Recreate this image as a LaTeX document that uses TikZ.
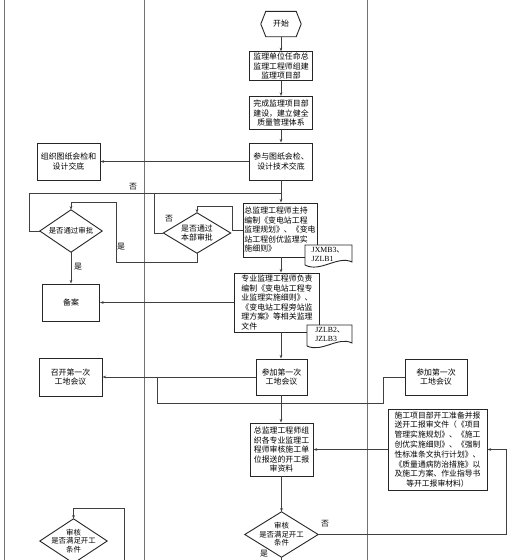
\documentclass[tikz,border=0pt]{standalone}
\usepackage{fontspec}
\setmainfont{Liberation Serif}
\newfontfamily\cjk{Noto Sans CJK SC}
\usetikzlibrary{arrows.meta,calc}
\begin{document}
\begin{tikzpicture}[x=1pt,y=-1pt,
  font=\cjk\fontsize{7.9}{9.5}\selectfont,
  box/.style={draw=black!85, line width=0.9pt, align=center, inner sep=1pt, text=black},
  lbox/.style={box, align=left},
  plain/.style={inner sep=0pt, align=center, text=black},
  conn/.style={draw=black!75, line width=0.6pt},
  arr/.style={conn, -{Stealth[length=3.6pt,width=2.6pt]}},
  lane/.style={draw=black!55, line width=0.8pt},
  shapebd/.style={draw=black!85, line width=0.9pt, fill=white},
  lbl/.style={inner sep=0pt, text=black}
]
\useasboundingbox (0,0) rectangle (507,560);
\clip (0,0) rectangle (507,560);
\fill[white] (0,0) rectangle (507,560);

% swim lanes
\draw[lane] (4,0) -- (4,560);
\draw[lane] (144,0) -- (144,560);
\draw[lane] (367,0) -- (367,560);

% start hexagon
\node[plain, minimum width=40, minimum height=25] (start) at (281,24) {开始};
\draw[shapebd, fill=none] (start.west) -- ($(start.north west)+(5,0)$) -- ($(start.north east)+(-5,0)$)
  -- (start.east) -- ($(start.south east)+(-5,0)$) -- ($(start.south west)+(5,0)$) -- cycle;

% middle lane boxes
\node[box, minimum width=63, minimum height=28] (b1) at (281,66) {监理单位任命总\\监理工程师组建\\监理项目部};
\node[box, minimum width=63, minimum height=33] (b2) at (281,113) {完成监理项目部\\建设，建立健全\\质量管理体系};
\node[box, minimum width=63, minimum height=37] (b3) at (281,161.5) {参与图纸会检、\\设计技术交底};
\node[lbox, minimum width=74, minimum height=54] (b4) at (280,230) {总监理工程师主持\\编制《变电站工程\\监理规划》、《变电\\站工程创优监理实\\施细则》};
\node[lbox, minimum width=85, minimum height=59] (b5) at (277,302.5) {专业监理工程师负责\\编制《变电站工程专\\业监理实施细则》、\\《变电站工程旁站监\\理方案》等相关监理\\文件};
\node[box, minimum width=51, minimum height=36] (b6) at (281.5,377) {参加第一次\\工地会议};
\node[box, minimum width=63, minimum height=53] (b7) at (281.5,449.5) {总监理工程师组\\织各专业监理工\\程师审核施工单\\位报送的开工报\\审资料};

% documents
\draw[shapebd] (305,245) -- (352,245) -- (352,262) .. controls (338,255) and (320,273) .. (305,265) -- cycle;
\node[plain, align=left, font=\rmfamily\fontsize{7.8}{9}\selectfont] (doc1) at (328,254) {JXMB3{\cjk 、}\\JZLB1};
\draw[shapebd] (307,325) -- (352,325) -- (352,343) .. controls (338,336) and (322,353) .. (307,346) -- cycle;
\node[plain, align=left, font=\rmfamily\fontsize{7.8}{9}\selectfont] (doc2) at (330,334) {JZLB2{\cjk 、}\\JZLB3};

% left lane boxes
\node[box, minimum width=63, minimum height=37] (lb1) at (68.5,161.5) {组织图纸会检和\\设计交底};
\node[box, minimum width=57, minimum height=37] (beian) at (71,302.5) {备案};
\node[box, minimum width=63, minimum height=38] (lb2) at (70.5,377) {召开第一次\\工地会议};

% right lane boxes
\node[box, minimum width=99, minimum height=81, font=\cjk\fontsize{7.8}{9.8}\selectfont] (rb1b) at (437.5,449.5) {施工项目部开工准备并报\\送开工报审文件（《项目\\管理实施规划》、《施工\\创优实施细则》、《强制\\性标准条文执行计划》、\\《质量通病防治措施》以\\及施工方案、作业指导书\\等开工报审材料）};
\node[box, minimum width=62, minimum height=36] (rb1) at (436,377) {参加第一次\\工地会议};

% decisions
\node[plain, minimum width=62, minimum height=42, font=\cjk\fontsize{7.4}{9}\selectfont] (d1) at (71,231) {是否通过审批};
\draw[shapebd, fill=none] (d1.west) -- (d1.north) -- (d1.east) -- (d1.south) -- cycle;
\node[plain, minimum width=67, minimum height=40] (d2) at (197,233) {是否通过\\本部审批};
\draw[shapebd, fill=none] (d2.west) -- (d2.north) -- (d2.east) -- (d2.south) -- cycle;
\node[plain, minimum width=73, minimum height=45, font=\cjk\fontsize{7.4}{8.6}\selectfont] (d3) at (281.5,534.5) {审核\\是否满足开工\\条件};
\draw[shapebd, fill=none] (d3.west) -- (d3.north) -- (d3.east) -- (d3.south) -- cycle;
\node[plain, minimum width=67, minimum height=44, font=\cjk\fontsize{7.4}{8.6}\selectfont] (d4) at (73.5,541) {审核\\是否满足开工\\条件};
\draw[shapebd, fill=none] (d4.west) -- (d4.north) -- (d4.east) -- (d4.south) -- cycle;

% helper coordinates
\coordinate (j1) at (281,193);
\coordinate (j2) at (154,193);
\coordinate (k1) at (197,206);
\coordinate (k2) at (71,202);
\coordinate (k3) at (116,202);
\coordinate (m1) at (157,377);
\coordinate (m2) at (383,403);
\coordinate (n1) at (506,449.5);
\coordinate (p1) at (124,570);
\coordinate (p2) at (124,508);
\coordinate (q1) at (281.5,575);

% connectors
\draw[arr] (start.south) -- (b1.north);
\draw[arr] (b1.south) -- (b2.north);
\draw[arr] (b2.south) -- (b3.north);
\draw[arr] (b3.south) -- (b3.south |- b4.north);
\draw[arr] (b3.west) -- (lb1.east);
\draw[conn] (d1.west) -- ++(-11,0) |- (j1);
\draw[conn] (d2.west) -| (j2);
\draw[arr] (b4.west) -- ++(-10,0) |- (k1) -- (d2.north);
\draw[arr] (d2.south) -- ++(0,9) -| (k3) -- (k2) -- (d1.north);
\draw[arr] (d1.south) -- (beian.north);
\draw[arr] (b4.south -| b3.south) -- (b3.south |- b5.north);
\draw[arr] (b5.west) -- (beian.east);
\draw[arr] (b5.south -| b3.south) -- (b3.south |- b6.north);
\draw[arr] (b6.west) -- (lb2.east);
\draw[conn] (rb1.west) -| (m2) -| (m1);
\draw[arr] (b6.south -| b3.south) -- (b3.south |- b7.north);
\draw[arr] (rb1b.west) -- (b7.east);
\draw[arr] (b7.south) -- (d3.north);
\draw[arr] (d3.east) -| (n1) -- (rb1b.east);
\draw[conn] (d3.south) -- (q1);
\draw[arr] (p1) -- (p2) -| (d4.north);

% labels
\node[lbl] (l1) at (133,187) {否};
\node[lbl] (l2) at (169,219) {否};
\node[lbl] (l3) at (121,247) {是};
\node[lbl] (l4) at (78,267) {是};
\node[lbl] (l5) at (325,524) {否};
\node[lbl] (l6) at (264,554) {是};
\end{tikzpicture}
\end{document}
